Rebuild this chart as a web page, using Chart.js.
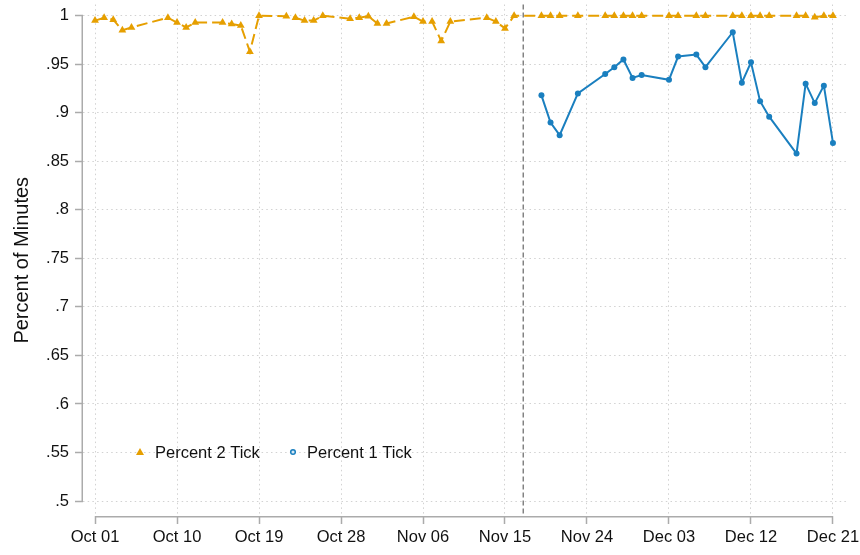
<!DOCTYPE html>
<html>
<head>
<meta charset="utf-8">
<script src="https://cdn.jsdelivr.net/npm/chart.js@4.4.1/dist/chart.umd.min.js"></script>
<style>
  html, body { margin: 0; padding: 0; background: #fff; }
  #wrap { width: 860px; height: 555px; }
</style>
</head>
<body>
<div id="wrap"><canvas id="tickChart" width="860" height="555"></canvas></div>
<script>
// trading days, Oct - Dec 2018
const dates2 = [
  '2018-10-01','2018-10-02','2018-10-03','2018-10-04','2018-10-05',
  '2018-10-09','2018-10-10','2018-10-11','2018-10-12',
  '2018-10-15','2018-10-16','2018-10-17','2018-10-18','2018-10-19',
  '2018-10-22','2018-10-23','2018-10-24','2018-10-25','2018-10-26',
  '2018-10-29','2018-10-30','2018-10-31','2018-11-01','2018-11-02',
  '2018-11-05','2018-11-06','2018-11-07','2018-11-08','2018-11-09',
  '2018-11-13','2018-11-14','2018-11-15','2018-11-16',
  '2018-11-19','2018-11-20','2018-11-21','2018-11-23',
  '2018-11-26','2018-11-27','2018-11-28','2018-11-29','2018-11-30',
  '2018-12-03','2018-12-04','2018-12-06','2018-12-07',
  '2018-12-10','2018-12-11','2018-12-12','2018-12-13','2018-12-14',
  '2018-12-17','2018-12-18','2018-12-19','2018-12-20','2018-12-21'
];
const pct2 = [
  .995, .998, .996, .985, .988,
  .998, .993, .988, .993,
  .993, .9915, .990, .963, 1.0,
  .9995, .998, .995, .995, 1.0,
  .997, .998, .9995, .992, .992,
  .999, .994, .994, .974, .994,
  .998, .994, .987, 1.0,
  1.0, 1.0, 1.0, 1.0,
  1.0, 1.0, 1.0, 1.0, 1.0,
  1.0, 1.0, 1.0, 1.0,
  1.0, 1.0, 1.0, 1.0, 1.0,
  1.0, 1.0, .9985, 1.0, 1.0
];

const dates1 = [
  '2018-11-19','2018-11-20','2018-11-21','2018-11-23',
  '2018-11-26','2018-11-27','2018-11-28','2018-11-29','2018-11-30',
  '2018-12-03','2018-12-04','2018-12-06','2018-12-07',
  '2018-12-10','2018-12-11','2018-12-12','2018-12-13','2018-12-14',
  '2018-12-17','2018-12-18','2018-12-19','2018-12-20','2018-12-21'
];
const pct1 = [
  .918, .890, .877, .920,
  .940, .947, .955, .936, .939,
  .934, .958, .960, .947,
  .983, .931, .952, .912, .896,
  .858, .930, .910, .928, .869
];

const cutoffDate = '2018-11-17';

const xTickDates = ['2018-10-01','2018-10-10','2018-10-19','2018-10-28','2018-11-06',
                    '2018-11-15','2018-11-24','2018-12-03','2018-12-12','2018-12-21'];
const xTickLabels = ['Oct 01','Oct 10','Oct 19','Oct 28','Nov 06',
                     'Nov 15','Nov 24','Dec 03','Dec 12','Dec 21'];
const yTicks = [.5, .55, .6, .65, .7, .75, .8, .85, .9, .95, 1];
const yTickLabels = ['.5','.55','.6','.65','.7','.75','.8','.85','.9','.95','1'];

const ORANGE = '#E69F00';
const BLUE = '#1A7FBF';
const FONT = "'Liberation Sans', Arial, sans-serif";

const start = Date.UTC(2018, 9, 1);
const dayIndex = s => (Date.parse(s) - start) / 86400000;
const toPoints = (ds, vs) => ds.map((d, i) => ({ x: dayIndex(d), y: vs[i] }));

// axis lines only span the tick range, plus the cutoff line and the legend
const decorations = {
  id: 'decorations',
  beforeDatasetsDraw(chart) {
    const { ctx, chartArea, scales } = chart;
    const x = scales.x.getPixelForValue(dayIndex(cutoffDate));
    ctx.save();
    ctx.strokeStyle = '#666';
    ctx.lineWidth = 1.2;
    ctx.setLineDash([5, 3]);
    ctx.beginPath();
    ctx.moveTo(x, chartArea.top);
    ctx.lineTo(x, chartArea.bottom);
    ctx.stroke();
    ctx.restore();
  },
  afterDraw(chart) {
    const { ctx, chartArea, scales } = chart;
    ctx.save();
    ctx.strokeStyle = '#ababab';
    ctx.lineWidth = 1.5;
    ctx.beginPath();
    const yx = chartArea.left - 0.75;
    ctx.moveTo(yx, scales.y.getPixelForValue(1));
    ctx.lineTo(yx, scales.y.getPixelForValue(.5));
    const xy = chartArea.bottom + 0.75;
    ctx.moveTo(scales.x.getPixelForValue(dayIndex(xTickDates[0])), xy);
    ctx.lineTo(scales.x.getPixelForValue(dayIndex(xTickDates[xTickDates.length - 1])), xy);
    ctx.stroke();

    // legend
    const ly = 452;
    ctx.fillStyle = ORANGE;
    ctx.beginPath();
    ctx.moveTo(140, ly - 4);
    ctx.lineTo(144, ly + 3);
    ctx.lineTo(136, ly + 3);
    ctx.closePath();
    ctx.fill();

    ctx.strokeStyle = BLUE;
    ctx.fillStyle = '#d6e8f4';
    ctx.lineWidth = 1.5;
    ctx.beginPath();
    ctx.arc(293, ly, 2.3, 0, Math.PI * 2);
    ctx.fill();
    ctx.stroke();

    ctx.fillStyle = '#111';
    ctx.font = '16.5px ' + FONT;
    ctx.textBaseline = 'middle';
    ctx.fillText('Percent 2 Tick', 155, ly + 1);
    ctx.fillText('Percent 1 Tick', 307, ly + 1);
    ctx.restore();
  }
};

new Chart(document.getElementById('tickChart'), {
  type: 'line',
  data: {
    datasets: [
      {
        label: 'Percent 2 Tick',
        data: toPoints(dates2, pct2),
        borderColor: ORANGE,
        backgroundColor: ORANGE,
        borderWidth: 2,
        borderDash: [11, 5],
        pointStyle: 'triangle',
        pointRadius: 4.5,
        pointBorderWidth: 0,
        tension: 0
      },
      {
        label: 'Percent 1 Tick',
        data: toPoints(dates1, pct1),
        borderColor: BLUE,
        backgroundColor: BLUE,
        borderWidth: 2,
        pointStyle: 'circle',
        pointRadius: 3,
        pointBorderWidth: 0,
        tension: 0
      }
    ]
  },
  options: {
    responsive: false,
    animation: false,
    layout: { padding: { top: 2, right: 12, left: 0, bottom: 0 } },
    plugins: {
      legend: { display: false },
      tooltip: { enabled: false }
    },
    scales: {
      x: {
        type: 'linear',
        min: -1.32,
        max: 82.65,
        afterBuildTicks: s => { s.ticks = xTickDates.map(d => ({ value: dayIndex(d) })); },
        afterFit: s => { s.height = 39; s.paddingLeft = 0; s.paddingRight = 0; },
        ticks: {
          callback: (v, i) => xTickLabels[i],
          autoSkip: false,
          maxRotation: 0,
          padding: 4,
          color: '#111',
          font: { family: FONT, size: 16.5 }
        },
        grid: {
          color: '#d2d2d2',
          lineWidth: 1,
          tickLength: 8,
          tickColor: '#ababab',
          tickWidth: 1.5,
          tickBorderDash: []
        },
        border: { display: false, dash: [1.5, 3.2] }
      },
      y: {
        min: .4846,
        max: 1.0116,
        afterBuildTicks: s => { s.ticks = yTicks.map(v => ({ value: v })); },
        afterFit: s => { s.width = 83; s.paddingTop = 0; s.paddingBottom = 0; },
        ticks: {
          callback: (v, i) => yTickLabels[i],
          padding: 6,
          color: '#111',
          font: { family: FONT, size: 16.5 }
        },
        grid: {
          color: '#d2d2d2',
          lineWidth: 1,
          tickLength: 8,
          tickColor: '#ababab',
          tickWidth: 1.5,
          tickBorderDash: []
        },
        border: { display: false, dash: [1.5, 3.2] },
        title: {
          display: true,
          text: 'Percent of Minutes',
          color: '#111',
          font: { family: FONT, size: 20 },
          padding: { top: 10, bottom: 0 }
        }
      }
    }
  },
  plugins: [decorations]
});
</script>
</body>
</html>
